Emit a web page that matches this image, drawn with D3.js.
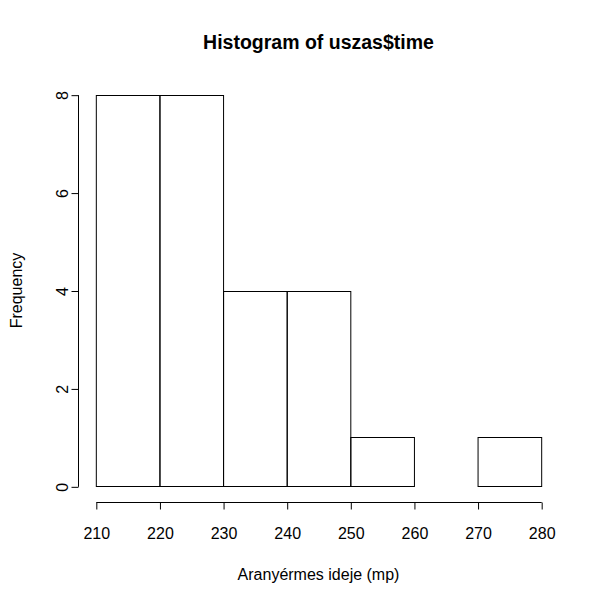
<!DOCTYPE html>
<html>
<head>
<meta charset="utf-8">
<script src="https://cdn.jsdelivr.net/npm/d3@7"></script>
<style>
  body { margin: 0; background: #fff; }
  text { font-family: "Liberation Sans", Arial, sans-serif; fill: #000; }
</style>
</head>
<body>
<div id="container"></div>
<script>
// histogram data
var breaks = [210, 220, 230, 240, 250, 260, 270, 280];
var counts = [8, 8, 4, 4, 1, 0, 1];
var xTicks = [210, 220, 230, 240, 250, 260, 270, 280];
var yTicks = [0, 2, 4, 6, 8];

var titleText = "Histogram of uszas$time";
var xLabel = "Aranyérmes ideje (mp)";
var yLabel = "Frequency";

// plot region like R's default margins
var W = 600, H = 600;
var plot = {left: 78, right: 559, top: 79, bottom: 502};

var bins = counts.map(function(c, i) {
  return {x0: breaks[i], x1: breaks[i + 1], n: c};
});

// R extends the range by 4% on each side
var xMin = d3.min(breaks), xMax = d3.max(breaks);
var xPad = (xMax - xMin) * 0.04;
var x = d3.scaleLinear()
  .domain([xMin - xPad, xMax + xPad])
  .range([plot.left, plot.right]);

var yMax = d3.max(counts);
var yPad = yMax * 0.04;
var y = d3.scaleLinear()
  .domain([-yPad, yMax + yPad])
  .range([plot.bottom, plot.top]);

var svg = d3.select('#container').append('svg')
  .attr('width', W)
  .attr('height', H);

// bars
svg.selectAll('.bar')
  .data(bins)
  .enter().append('rect')
  .attr('class', 'bar')
  .attr('x', function(d) { return x(d.x0) + 0.5; })
  .attr('y', function(d) { return Math.round(y(d.n)) + 0.5; })
  .attr('width', function(d) { return x(d.x1) - x(d.x0); })
  .attr('height', function(d) { return Math.round(y(0)) - Math.round(y(d.n)); })
  .attr('fill', 'none')
  .attr('stroke', '#000')
  .attr('stroke-width', 1);

// x axis
var xAxis = d3.axisBottom(x)
  .tickValues(xTicks)
  .tickSize(7)
  .tickPadding(17)
  .tickSizeOuter(0);

var gx = svg.append('g')
  .attr('class', 'x axis')
  .attr('transform', 'translate(0.5,' + (plot.bottom + 0.5) + ')')
  .call(xAxis);
gx.select('.domain').attr('d', 'M' + x(xMin) + ',0H' + x(xMax));
gx.selectAll('.tick text')
  .attr('y', 31).attr('dy', null)
  .attr('dominant-baseline', 'central');

// y axis
var yAxis = d3.axisLeft(y)
  .tickValues(yTicks)
  .tickSize(7)
  .tickSizeOuter(0);

var gy = svg.append('g')
  .attr('class', 'y axis')
  .attr('transform', 'translate(' + (plot.left + 0.5) + ',0.5)')
  .call(yAxis);
gy.select('.domain').attr('d', 'M0,' + y(0) + 'V' + y(yMax));
gy.selectAll('.tick text')
  .attr('x', null).attr('dy', null)
  .attr('text-anchor', 'middle')
  .attr('dominant-baseline', 'central')
  .attr('transform', 'translate(-16,0) rotate(-90)');

svg.selectAll('.axis text')
  .style('font-family', '"Liberation Sans", Arial, sans-serif')
  .style('font-size', '16px');
svg.selectAll('.axis path, .axis line').attr('stroke', '#000');

// title and axis labels
var cx = (plot.left + plot.right) / 2;
svg.append('text')
  .attr('x', cx)
  .attr('y', 42)
  .attr('text-anchor', 'middle')
  .attr('dominant-baseline', 'central')
  .style('font-size', '19.5px')
  .style('font-weight', 'bold')
  .text(titleText);

svg.append('text')
  .attr('x', cx)
  .attr('y', 574)
  .attr('text-anchor', 'middle')
  .attr('dominant-baseline', 'central')
  .style('font-size', '16px')
  .text(xLabel);

svg.append('text')
  .attr('text-anchor', 'middle')
  .attr('dominant-baseline', 'central')
  .attr('transform', 'translate(16,' + ((plot.top + plot.bottom) / 2) + ') rotate(-90)')
  .style('font-size', '16px')
  .text(yLabel);
</script>
</body>
</html>
